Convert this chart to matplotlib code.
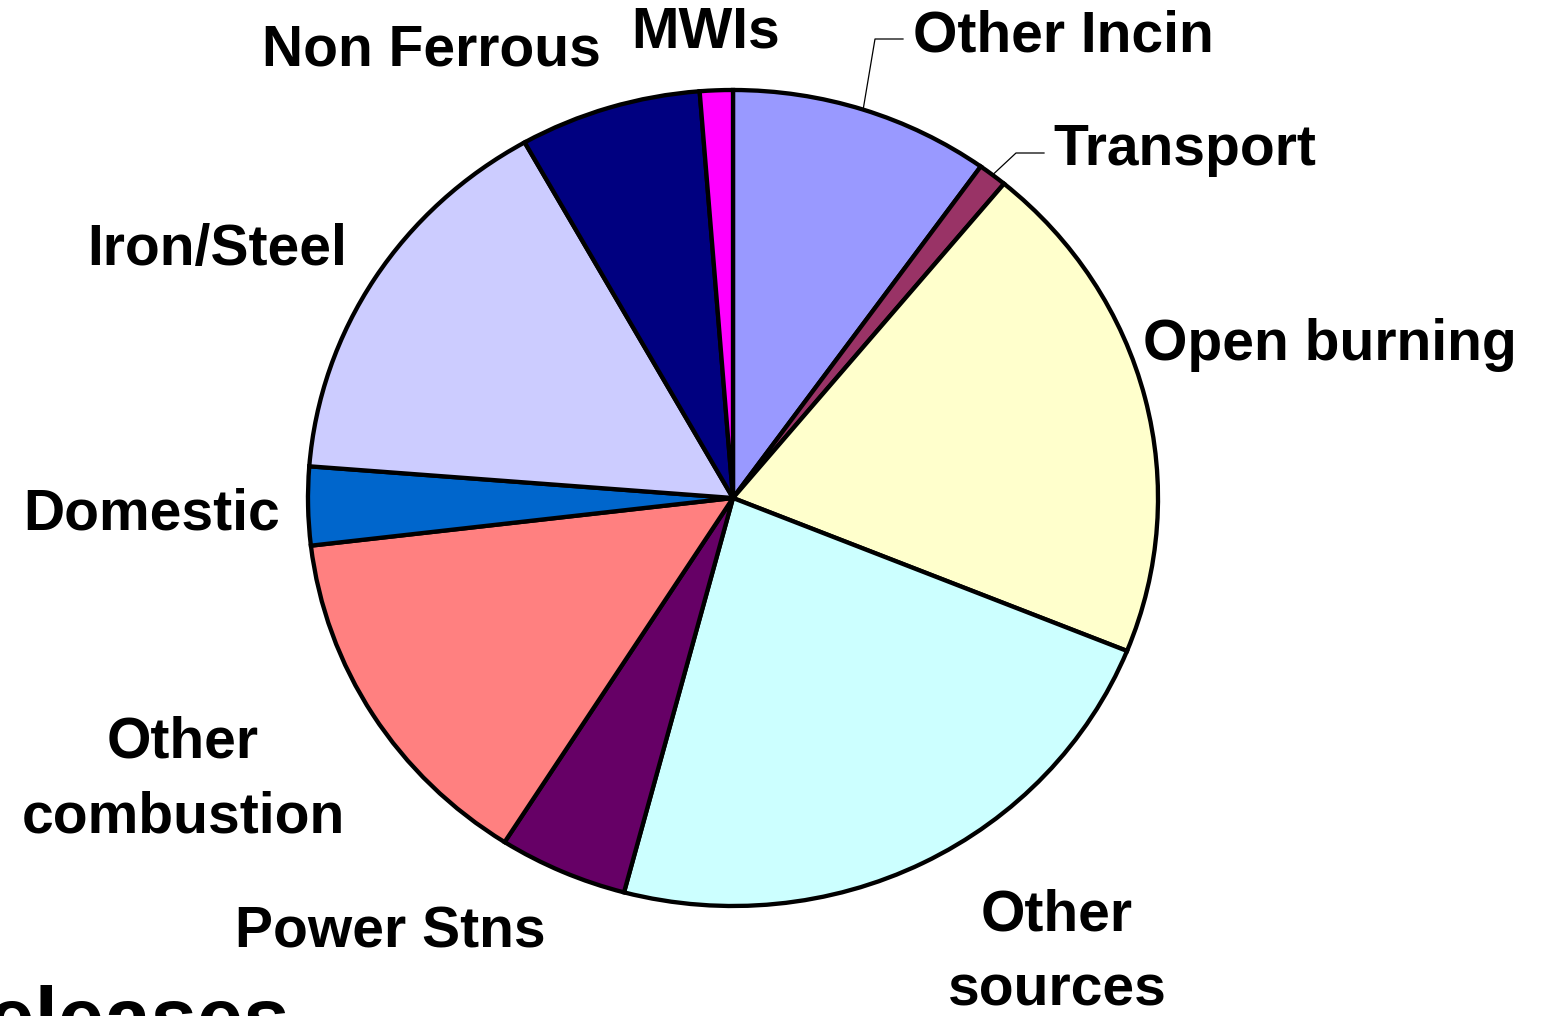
import numpy as np
import matplotlib

matplotlib.use("Agg")
import matplotlib.pyplot as plt
from matplotlib.lines import Line2D

plt.rcParams["font.family"] = ["Liberation Sans", "DejaVu Sans"]

# share of releases by source, clockwise from 12 o'clock
sources = ["Other Incin", "Transport", "Open burning", "Other sources", "Power Stns",
           "Other combustion", "Domestic", "Iron/Steel", "Non Ferrous", "MWIs"]
shares = [9.9, 1.1, 20.1, 23.0, 4.9, 14.1, 3.1, 15.6, 6.9, 1.25]
colours = ["#9999FF", "#993366", "#FFFFCC", "#CCFFFF", "#660066",
           "#FF8080", "#0066CC", "#CCCCFF", "#000080", "#FF00FF"]

W, H = 1553, 1016
fig = plt.figure(figsize=(W / 100, H / 100), dpi=100)

# pie is slightly wider than tall in the original
cx, cy, rx, ry = 733, 498, 425, 408
ax = fig.add_axes([(cx - rx) / W, (H - cy - ry) / H, 2 * rx / W, 2 * ry / H])
wedges, _ = ax.pie(shares, colors=colours, startangle=90, counterclock=False,
                   wedgeprops=dict(edgecolor="black", linewidth=3.1))
ax.set_aspect("auto")
ax.set_xlim(-1, 1)
ax.set_ylim(-1, 1)
ax.axis("off")

lab = dict(fontsize=41, fontweight="bold", color="black", va="center")

def put(txt, x, y, ha="center", **kw):
    fig.text(x / W, 1 - y / H, txt, ha=ha, **lab, **kw)

put("MWIs", 706, 32)
put("Non Ferrous", 431, 50)
put("Other Incin", 913, 37, ha="left")
put("Transport", 1053, 150, ha="left")
put("Open burning", 1143, 345, ha="left")
put("Iron/Steel", 217, 250)
put("Domestic", 152, 514)
put("Other\ncombustion", 183, 780, linespacing=1.52)
put("Power Stns", 390, 932)
put("Other\nsources", 1057, 953, linespacing=1.52)

# leader lines for the two small labels
def leader(w, elbow, end):
    mid = np.deg2rad((w.theta1 + w.theta2) / 2)
    ex, ey = ax.transData.transform((np.cos(mid), np.sin(mid)))
    xs = [ex / W, elbow[0] / W, end[0] / W]
    ys = [ey / H, 1 - elbow[1] / H, 1 - end[1] / H]
    fig.add_artist(Line2D(xs, ys, color="black", linewidth=0.9))

leader(wedges[0], (875, 39), (903, 39))
leader(wedges[1], (1016, 153), (1044, 153))

# title clipped at the bottom edge of the slide, as in the original
fig.text(290 / W, 1 - 1046 / H, "Releases", ha="right", va="baseline",
         fontsize=60, fontweight="bold")

fig.savefig("out.png", dpi=100)
